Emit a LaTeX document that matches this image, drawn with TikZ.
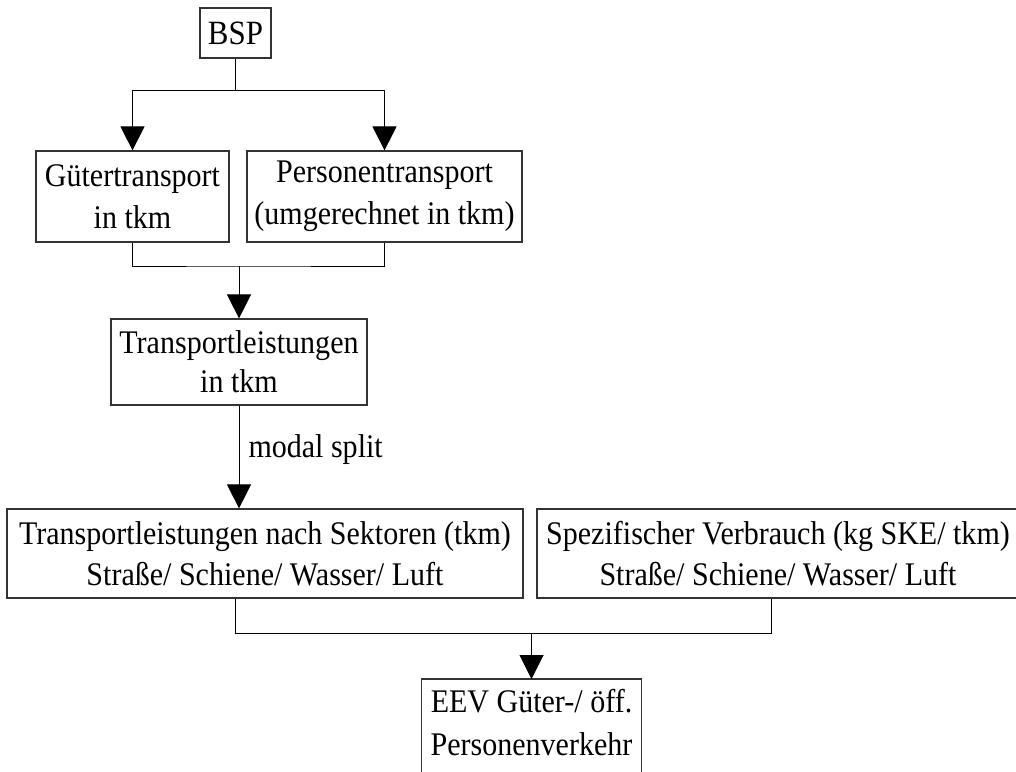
\documentclass[tikz,border=0pt]{standalone}
\usepackage{fontspec}
\setmainfont{Liberation Serif}[FakeStretch=0.91]
\usetikzlibrary{arrows.meta}
\begin{document}
\begin{tikzpicture}[x=1pt,y=-1pt,
  boxline/.style={draw=black!80, line width=1.2pt},
  box/.style={boxline, inner sep=0pt, align=center, font=\fontsize{33}{42}\selectfont},
  conn/.style={line width=1pt},
  arr/.style={conn, -{Triangle[width=24pt,length=24pt]}},
  lbl/.style={inner sep=0pt, font=\fontsize{33}{42}\selectfont}
]
\useasboundingbox (0,0) rectangle (1016,771);
\clip (0,0) rectangle (1016,771);
% boxes
\node[box, font=\fontsize{34}{40}\selectfont, minimum width=71pt, minimum height=50pt] (bsp) at (235.5,33) {BSP};
\node[box, minimum width=193pt, minimum height=91pt] (gt) at (132.5,196.5) {Gütertransport\\in tkm};
\node[box, minimum width=275pt, minimum height=91pt] (pt) at (384.5,196.5) {Personentransport\\(umgerechnet in tkm)};
\node[box, font=\fontsize{33}{39}\selectfont, minimum width=256pt, minimum height=86pt] (tl) at (239,362) {Transportleistungen\\in tkm};
\node[box, font=\fontsize{33}{41}\selectfont, minimum width=516pt, minimum height=89pt] (tls) at (265,553.5) {Transportleistungen nach Sektoren (tkm)\\Straße/ Schiene/ Wasser/ Luft};
\node[box, font=\fontsize{33}{41}\selectfont, minimum width=482pt, minimum height=89pt] (sv) at (778,553.5) {Spezifischer Verbrauch (kg SKE/ tkm)\\Straße/ Schiene/ Wasser/ Luft};
\node[box, draw=none, font=\fontsize{33}{43}\selectfont, minimum width=219pt, minimum height=86pt, anchor=north] (eev) at (531.5,679) {EEV Güter-/ öff.\\Personenverkehr};
\draw[boxline] ([yshift=-30pt]eev.south west) -- (eev.north west) -- (eev.north east) -- ([yshift=-30pt]eev.south east);
% junctions
\coordinate (j1) at (bsp.south |- 0,90);
\coordinate (j2) at (tl.north |- 0,266);
\coordinate (j3) at (eev.north |- 0,633);
% connectors
\draw[conn] (bsp.south) -- (j1);
\draw[arr] (j1) -| (gt.north);
\draw[arr] (j1) -| (pt.north);
\draw[conn] (gt.south) |- (j2) -| (pt.south);
\draw[arr] (j2) -- (tl.north);
\draw[arr] (tl.south) -- (tl.south |- tls.north) node[lbl, pos=0.43, anchor=west, xshift=9pt] (ms) {modal split};
\draw[conn] ([xshift=-30pt]tls.south) |- (j3) -| ([xshift=-7pt]sv.south);
\draw[arr] (j3) -- (eev.north);
\end{tikzpicture}
\end{document}
